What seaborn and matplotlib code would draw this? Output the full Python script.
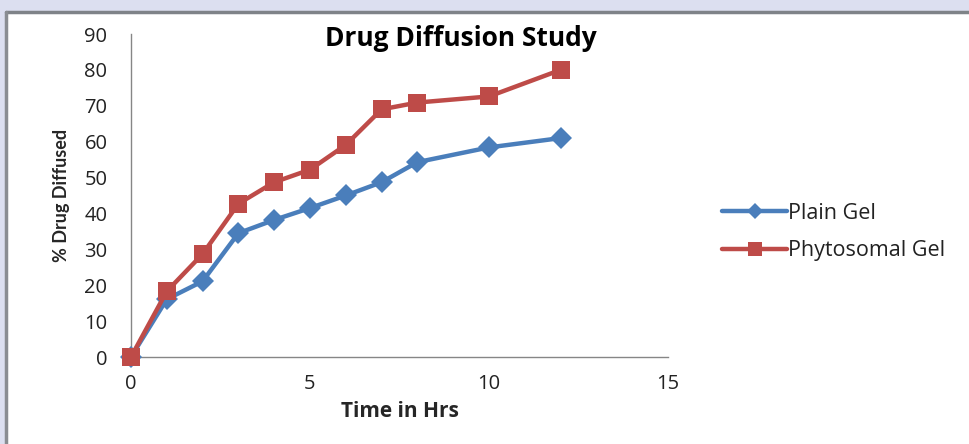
import matplotlib
matplotlib.use("Agg")
import matplotlib.pyplot as plt
import matplotlib.patches as mpatches
import seaborn as sns
import pandas as pd

time_hrs = [0, 1, 2, 3, 4, 5, 6, 7, 8, 10, 12]
plain_gel = [0, 16.1, 21.1, 34.5, 38.2, 41.5, 45.0, 48.7, 54.3, 58.4, 61.0]
phytosomal_gel = [0, 18.3, 28.7, 42.7, 48.7, 52.2, 59.1, 69.0, 70.9, 72.6, 80.0]
series_names = ["Plain Gel", "Phytosomal Gel"]
x_ticks = [0, 5, 10, 15]
y_ticks = [0, 10, 20, 30, 40, 50, 60, 70, 80, 90]

df = pd.concat([
    pd.DataFrame({"Time": time_hrs, "Value": plain_gel, "Series": series_names[0]}),
    pd.DataFrame({"Time": time_hrs, "Value": phytosomal_gel, "Series": series_names[1]}),
])

sns.set_theme(style="white")
plt.rcParams["font.family"] = ["Open Sans", "DejaVu Sans"]

W, H = 969, 444
fig = plt.figure(figsize=(W / 100, H / 100), dpi=100)
fig.patch.set_facecolor("#dcdff0")

# white panel with gray top/left border
panel = mpatches.Rectangle((6 / W, 0), 1 - 6 / W, 1 - 12 / H, transform=fig.transFigure,
                           facecolor="white", edgecolor="none", zorder=-10)
fig.patches.append(panel)
fig.lines.append(plt.Line2D([6 / W, 1], [1 - 12 / H, 1 - 12 / H], transform=fig.transFigure,
                            color="#7f8388", lw=2.5, zorder=-5))
fig.lines.append(plt.Line2D([6 / W, 6 / W], [0, 1 - 12 / H], transform=fig.transFigure,
                            color="#8a8d92", lw=2.5, zorder=-5))

ax = fig.add_axes([131 / W, 1 - 357 / H, (668 - 131) / W, (357 - 34) / H])
ax.set_zorder(5)
ax.set_facecolor("none")

palette = {"Plain Gel": "#4a7ebb", "Phytosomal Gel": "#be4b48"}
markers = {"Plain Gel": "D", "Phytosomal Gel": "s"}
sizes = {"Plain Gel": 11.5, "Phytosomal Gel": 13.5}
for name in series_names:
    sub = df[df["Series"] == name]
    sns.lineplot(data=sub, x="Time", y="Value", ax=ax, color=palette[name],
                 marker=markers[name], markersize=sizes[name], markeredgewidth=0,
                 linewidth=3.2, label=name, clip_on=False, zorder=3 if name == "Plain Gel" else 4)

ax.set_xlim(0, 15)
ax.set_ylim(0, 90)
ax.set_xticks(x_ticks)
ax.set_yticks(y_ticks)
ax.tick_params(axis="both", which="major", length=7, width=1, color="#868686",
               labelsize=14.5, labelcolor="#222222", direction="out")
ax.tick_params(axis="x", pad=5)
ax.tick_params(axis="y", pad=10)
for s in ["top", "right"]:
    ax.spines[s].set_visible(False)
for s in ["left", "bottom"]:
    ax.spines[s].set_color("#868686")
    ax.spines[s].set_linewidth(1)

ax.set_xlabel("Time in Hrs", fontsize=15, fontweight="bold", labelpad=5)
ax.set_ylabel("% Drug Diffused", fontsize=13, fontweight="bold", labelpad=10,
              family=["Lato", "DejaVu Sans"])

fig.text(461 / W, 1 - 38 / H, "Drug Diffusion Study", ha="center", va="center",
         fontsize=19, fontweight="bold", color="#000000")

leg = ax.legend(loc="center left", bbox_to_anchor=(703 / W, 1 - 232 / H),
                bbox_transform=fig.transFigure, frameon=False, fontsize=15.5,
                handlelength=3.0, handletextpad=0.05, labelspacing=0.75, markerscale=0.75)
for t in leg.get_texts():
    t.set_color("#222222")

fig.savefig("out.png", dpi=100, facecolor=fig.get_facecolor())
